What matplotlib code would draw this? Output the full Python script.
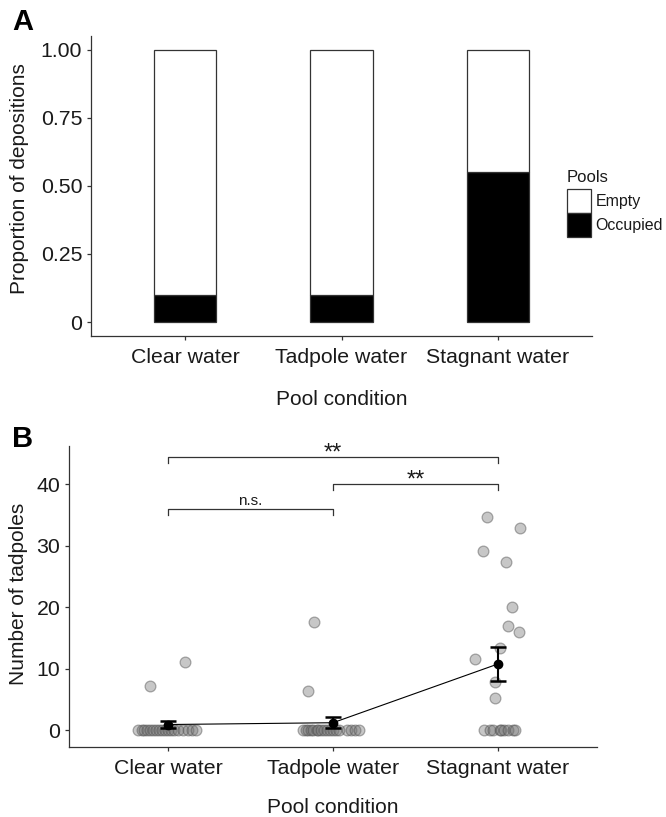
import numpy as np
import matplotlib
matplotlib.use("Agg")
import matplotlib.pyplot as plt
from matplotlib.patches import Patch

plt.rcParams['font.family'] = ['Liberation Sans', 'DejaVu Sans']

# ---------------- data ----------------
conditions = ['Clear water', 'Tadpole water', 'Stagnant water']
pool_labels = ['Empty', 'Occupied']
prop_occupied = [0.10, 0.10, 0.55]
prop_empty = [0.90, 0.90, 0.45]
prop_ticks = [0, 0.25, 0.50, 0.75, 1.00]
prop_ticklabels = ['0', '0.25', '0.50', '0.75', '1.00']

tadpoles_clear = [7.1, 11.0, 0, 0, 0, 0, 0, 0, 0, 0, 0, 0, 0, 0, 0, 0, 0, 0, 0, 0]
tadpoles_tadpole = [17.6, 6.4, 0, 0, 0, 0, 0, 0, 0, 0, 0, 0, 0, 0, 0, 0, 0, 0, 0, 0]
tadpoles_stagnant = [34.6, 32.8, 29.2, 27.4, 20.0, 17.0, 16.0, 13.4, 11.6, 7.9, 5.2,
                     0, 0, 0, 0, 0, 0, 0, 0, 0]
count_ticks = [0, 10, 20, 30, 40]

# significance comparisons: (group a, group b, bracket height, label)
sig_pairs = [(1, 2), (2, 3), (1, 3)]
sig_heights = [36.0, 40.0, 44.4]
sig_labels = ['n.s.', '**', '**']

# horizontal jitter (styling, category units)
jitter_clear = [-0.11, 0.10, -0.18, -0.16, -0.145, -0.13, -0.11, -0.09, -0.07, -0.055,
                -0.035, -0.02, 0.0, 0.02, 0.035, 0.06, 0.09, 0.12, 0.145, 0.17]
jitter_tadpole = [-0.115, -0.15, -0.18, -0.165, -0.15, -0.135, -0.12, -0.10, -0.09, -0.07,
                  -0.055, -0.035, -0.02, 0.0, 0.02, 0.035, 0.085, 0.11, 0.135, 0.155]
jitter_stagnant = [-0.065, 0.135, -0.09, 0.05, 0.085, 0.06, 0.125, 0.01, -0.14, -0.02, -0.02,
                   -0.085, -0.05, -0.03, 0.01, 0.02, 0.035, 0.06, 0.09, 0.10]

groups = [tadpoles_clear, tadpoles_tadpole, tadpoles_stagnant]
jitters = [jitter_clear, jitter_tadpole, jitter_stagnant]

# ---------------- figure ----------------
W, H = 666, 817
fig = plt.figure(figsize=(W / 100, H / 100), dpi=100)

def rect(l, r, t, b):
    return [l / W, 1 - b / H, (r - l) / W, (b - t) / H]

TXT = '#1a1a1a'
AX = '#333333'
xpos = np.arange(1, len(conditions) + 1)

def style(ax):
    for s in ['top', 'right']:
        ax.spines[s].set_visible(False)
    for s in ['left', 'bottom']:
        ax.spines[s].set_color(AX)
        ax.spines[s].set_linewidth(0.9)
    ax.tick_params(axis='both', length=3, width=0.9, color=AX, labelcolor=TXT,
                   labelsize=15.3, pad=3.3)
    ax.tick_params(axis='x', pad=5.5)

# ---- Panel A ----
axA = fig.add_axes(rect(91, 592, 36, 335.7))
axA.bar(xpos, prop_occupied, width=0.4, color='black', edgecolor=AX, linewidth=0.9)
axA.bar(xpos, prop_empty, width=0.4, bottom=prop_occupied, color='white',
        edgecolor=AX, linewidth=0.9)
axA.set_xlim(0.4, 3.6)
axA.set_ylim(-0.05, 1.05)
axA.set_xticks(xpos)
axA.set_xticklabels(conditions)
axA.set_yticks(prop_ticks)
axA.set_yticklabels(prop_ticklabels)
style(axA)
axA.set_xlabel('Pool condition', fontsize=15, color=TXT)
axA.set_ylabel('Proportion of depositions', fontsize=15, color=TXT)
axA.xaxis.set_label_coords(341.5 / W, 1 - 405 / H, transform=fig.transFigure)
axA.xaxis.label.set_va('baseline')
axA.yaxis.set_label_coords(20 / W, 1 - 178.5 / H, transform=fig.transFigure)
axA.yaxis.label.set_va('center')

handles = [Patch(facecolor='white', edgecolor=AX, linewidth=0.9),
           Patch(facecolor='black', edgecolor=AX, linewidth=0.9)]
leg = axA.legend(handles, pool_labels, title='Pools', loc='upper left',
                 bbox_to_anchor=(567 / W, 1 - 170 / H), bbox_transform=fig.transFigure,
                 frameon=False, fontsize=11.5, title_fontsize=12,
                 handlelength=1.5, handleheight=1.93, labelspacing=0.0,
                 handletextpad=0.3, borderpad=0, borderaxespad=0, alignment='left')
leg._legend_box.sep = 3
for t in leg.get_texts():
    t.set_color(TXT)
leg.get_title().set_color(TXT)

# ---- Panel B ----
axB = fig.add_axes(rect(69, 597, 446, 746.7))
for i, (vals, jit) in enumerate(zip(groups, jitters)):
    axB.scatter(np.full(len(vals), xpos[i]) + np.array(jit), vals, s=60,
                facecolor=(0.45, 0.45, 0.45, 0.40), edgecolor=(0.3, 0.3, 0.3, 0.45),
                linewidth=0.9, zorder=2)
means = [np.mean(v) for v in groups]
ses = [np.std(v, ddof=1) / np.sqrt(len(v)) for v in groups]
axB.plot(xpos, means, color='black', linewidth=0.8, zorder=3)
axB.errorbar(xpos, means, yerr=ses, fmt='o', color='black', markersize=6,
             elinewidth=1.5, capsize=6, capthick=1.8, zorder=4)
axB.set_xlim(0.4, 3.6)
axB.set_ylim(-2.7, 46.2)
axB.set_xticks(xpos)
axB.set_xticklabels(conditions)
axB.set_yticks(count_ticks)
style(axB)
axB.set_xlabel('Pool condition', fontsize=15, color=TXT)
axB.set_ylabel('Number of tadpoles', fontsize=15, color=TXT)
axB.xaxis.set_label_coords(333 / W, 1 - 813.3 / H, transform=fig.transFigure)
axB.xaxis.label.set_va('baseline')
axB.yaxis.set_label_coords(19 / W, 1 - 593.5 / H, transform=fig.transFigure)
axB.yaxis.label.set_va('center')

for (a, b), h, lab in zip(sig_pairs, sig_heights, sig_labels):
    axB.plot([a, a, b, b], [h - 0.95, h, h, h - 0.95], color=AX, linewidth=0.9,
             clip_on=False)
    if lab == 'n.s.':
        axB.text((a + b) / 2, h + 0.6, lab, ha='center', va='baseline', fontsize=11,
                 color=TXT)
    else:
        axB.text((a + b) / 2, h - 0.4, lab, ha='center', va='baseline', fontsize=17,
                 color=TXT, clip_on=False)

# panel letters
fig.text(12 / W, 1 - 8 / H, 'A', fontsize=21, fontweight='bold', ha='left', va='top')
fig.text(12 / W, 1 - 425 / H, 'B', fontsize=21, fontweight='bold', ha='left', va='top')

fig.savefig('out.png', dpi=100)
